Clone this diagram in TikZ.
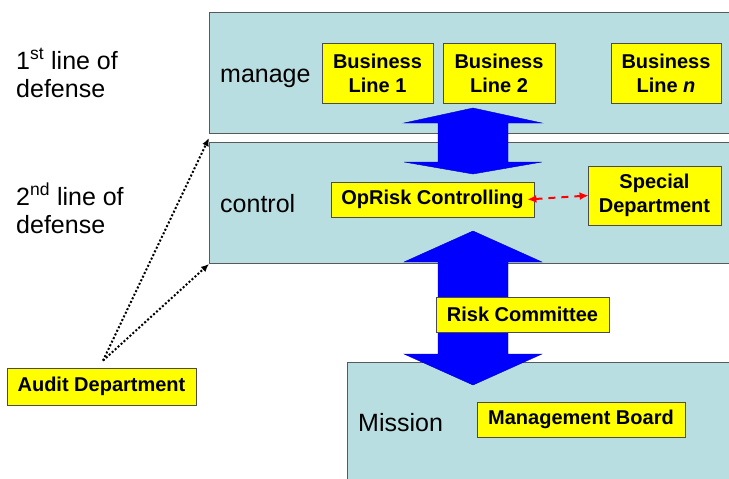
\documentclass[tikz,border=0pt]{standalone}
\usepackage{fontspec}
\setmainfont{Liberation Sans}
\usepackage{tikz}
\usetikzlibrary{positioning,arrows.meta,calc}
\definecolor{panelblue}{HTML}{B9DEE1}
\definecolor{boxyellow}{HTML}{FFFF00}
\definecolor{arrowblue}{HTML}{0000FF}

\begin{document}
\begin{tikzpicture}[x=1pt, y=-1pt,
  panel/.style={rectangle, draw=black!65, fill=panelblue, line width=1pt,
                anchor=north west, inner sep=0pt},
  box/.style={rectangle, draw=black!70, fill=boxyellow, line width=0.8pt, inner sep=0pt,
              align=center, font=\fontsize{20}{24}\selectfont\bfseries},
  lbl/.style={font=\fontsize{25}{28}\selectfont, inner sep=0pt, anchor=base west, align=left},
  big/.style={fill=arrowblue, draw=arrowblue!80!black, line width=0.4pt},
  audit/.style={-{Latex[length=8pt,width=7pt]}, line width=2pt, dash pattern=on 2pt off 2pt},
  link/.style={{Latex[length=9pt,width=8pt]}-{Latex[length=9pt,width=8pt]}, line width=2pt,
               dash pattern=on 7pt off 6pt, red}
]
\clip (0,0) rectangle (729,479);
\fill[white] (0,0) rectangle (729,479);
% levels
\node[panel, minimum width=540pt, minimum height=121pt] (manage)  at (209,12)  {};
\node[panel, minimum width=540pt, minimum height=121pt] (control) at (209,142) {};
\node[panel, minimum width=400pt, minimum height=130pt] (mission) at (347,362) {};
% big arrows
\draw[big] (473,108) -- (542,123) -- (508,123) -- (508,162) -- (542,162) -- (473,174)
  -- (404,162) -- (438,162) -- (438,123) -- (404,123) -- cycle;
\draw[big] (473,231) -- (542,262) -- (508,262) -- (508,354) -- (542,354) -- (473,385)
  -- (404,354) -- (438,354) -- (438,262) -- (404,262) -- cycle;
% boxes
\node[box, minimum width=111pt, minimum height=60pt] (bl1) at (377.5,73) {Business\\Line 1};
\node[box, minimum width=112pt, minimum height=60pt] (bl2) at (499,73) {Business\\Line 2};
\node[box, minimum width=110pt, minimum height=60pt] (bln) at (666,73) {Business\\Line \textit{n}};
\node[box, minimum width=203pt, minimum height=35pt] (oprisk) at (432.5,199.5) {OpRisk Controlling};
\node[box, minimum width=133pt, minimum height=59pt] (special) at (654.5,195.5) {Special\\Department};
\node[box, minimum width=173pt, minimum height=35pt] (riskcom) at (522.5,314.5) {Risk Committee};
\node[box, minimum width=208pt, minimum height=35pt] (board) at (581,419.5) {Management Board};
\node[box, minimum width=189pt, minimum height=37pt] (audit) at (101.5,386.5) {Audit Department};
% labels
\node[lbl] (first)  at (16,97)  {1\textsuperscript{st} line of\\defense};
\node[lbl] (second) at (16,233) {2\textsuperscript{nd} line of\\defense};
\node[lbl] (tmanage)  at (220,82)  {manage};
\node[lbl] (tcontrol) at (220,212) {control};
\node[lbl] (tmission) at (358,431) {Mission};
% connectors
\draw[link] ([xshift=-7pt]oprisk.east) -- ([xshift=1pt]special.west);
\coordinate (src) at ([xshift=1.5pt,yshift=7pt]audit.north);
\coordinate (gap) at ($(manage.south west)!0.5!(control.north west)$);
\draw[audit] (src) -- (gap);
\draw[audit] (src) -- (control.south west);
\end{tikzpicture}
\end{document}
